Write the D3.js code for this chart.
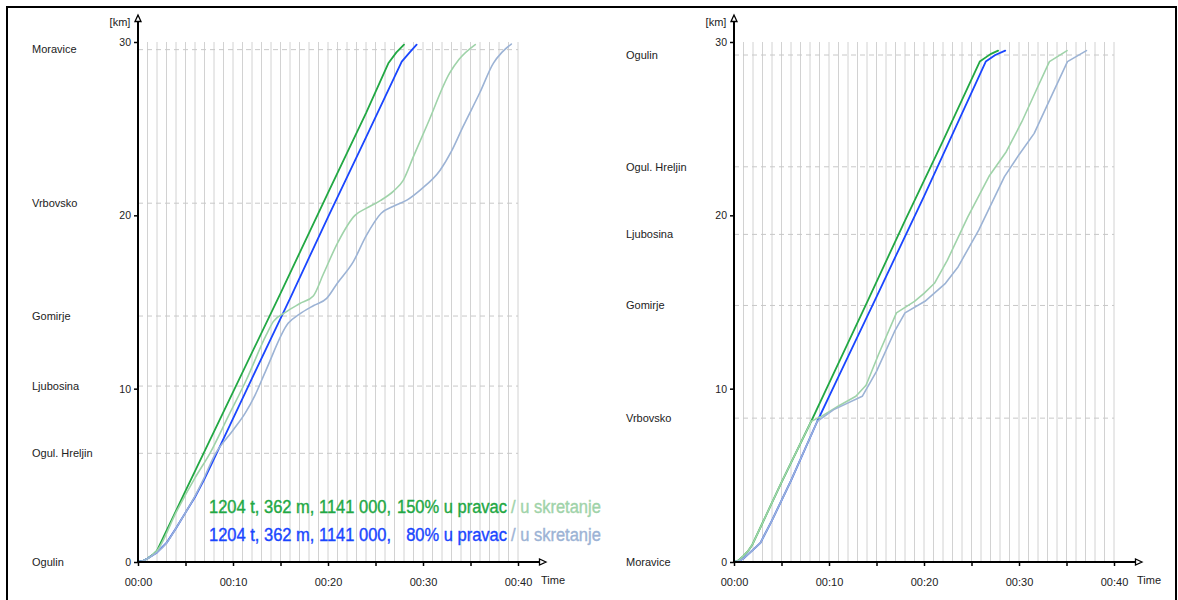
<!DOCTYPE html>
<html>
<head>
<meta charset="utf-8">
<script src="https://cdn.jsdelivr.net/npm/d3@7/dist/d3.min.js"></script>
<style>
  html, body { margin: 0; padding: 0; background: #fff; }
  svg { display: block; }
  text { font-family: "Liberation Sans", Arial, sans-serif; }
</style>
</head>
<body>
<svg id="chart" width="1178" height="600"></svg>
<script>
// ---------- DATA ----------
const timeTickValues = [0, 10, 20, 30, 40];
const timeTickLabels = ["00:00", "00:10", "00:20", "00:30", "00:40"];
const kmTickValues = [0, 10, 20, 30];

// Left chart: Ogulin -> Moravice
const leftStationNames = ["Ogulin", "Ogul. Hreljin", "Ljubosina", "Gomirje", "Vrbovsko", "Moravice"];
const leftStationKm    = [0, 6.27, 10.15, 14.19, 20.7, 29.56];

// [minutes, km]
const leftPravac150 = [[0,0],[0.5,0.06],[1,0.2],[1.5,0.4],[2,0.65],[5,4.1],[10,9.8],[15,15.5],[20,21.3],[24,25.9],[26.35,28.77],[27.2,29.4],[28,29.85]];
const leftPravac80  = [[0,0],[0.5,0.06],[1,0.2],[2,0.55],[3,1.1],[4,1.95],[5,2.85],[6,3.75],[7,4.8],[8.3,6.3],[12,10.6],[16,15.2],[20,19.9],[24,24.5],[27.76,28.87],[28.6,29.4],[29.33,29.85]];
const leftSkret150  = [[0,0],[0.5,0.06],[1,0.2],[1.5,0.4],[2,0.65],[4,2.85],[6,4.85],[7.6,6.3],[9.5,8.4],[11.4,10.5],[13.5,13.1],[14.24,13.87],[15.5,14.4],[17,14.9],[18.45,15.35],[19.5,16.6],[21,18.4],[22.84,20.0],[24,20.4],[25.5,20.85],[26.9,21.4],[27.9,22.0],[29,23.4],[30.5,25.3],[32.8,28.2],[33.8,29.0],[35.5,29.85]];
const leftSkret80   = [[0,0],[0.5,0.06],[1,0.2],[2,0.55],[3,1.1],[4,1.95],[5,2.85],[6,3.8],[7,4.9],[8,6.1],[10,7.6],[11.3,8.6],[12.3,9.6],[13.5,11.1],[15.8,13.77],[17,14.3],[18.5,14.8],[19.86,15.21],[21,16.1],[22.67,17.33],[24,18.8],[25.6,20.12],[27,20.55],[28.3,20.88],[29.7,21.46],[31.8,22.6],[33,23.7],[34.2,25.1],[36,27.1],[37.4,28.77],[38.3,29.4],[39.3,29.88]];

// Right chart: Moravice -> Ogulin
const rightStationNames = ["Moravice", "Vrbovsko", "Gomirje", "Ljubosina", "Ogul. Hreljin", "Ogulin"];
const rightStationKm    = [0, 8.3, 14.8, 18.9, 22.8, 29.25];

const rightPravac150 = [[0,0],[0.5,0.1],[1,0.35],[1.5,0.65],[1.93,1.0],[3,2.25],[5,4.6],[8.13,8.12],[10,10.3],[14.1,15.1],[18,19.7],[22,24.3],[25.87,28.87],[27,29.3],[27.8,29.5]];
const rightPravac80  = [[0,0],[0.5,0.05],[1,0.2],[1.5,0.45],[2,0.7],[2.78,1.1],[4,2.4],[6,4.7],[8.77,8.12],[11,10.7],[15,15.3],[20,21.1],[26.5,28.87],[27.5,29.25],[28.55,29.5]];
const rightSkret150  = [[0,0],[0.5,0.1],[1,0.35],[1.5,0.65],[1.93,1.0],[3,2.25],[5,4.6],[8.13,8.12],[9.2,8.4],[11,9.0],[12.83,9.56],[13.9,10.2],[15.2,11.96],[17.1,14.37],[19.0,15.04],[20,15.5],[21.1,16.08],[22.45,17.4],[24.6,19.9],[26.9,22.3],[28.66,23.67],[30.3,25.4],[31.8,27.2],[33.2,28.87],[35.06,29.5]];
const rightSkret80   = [[0,0],[0.5,0.05],[1,0.2],[1.5,0.45],[2,0.7],[2.78,1.1],[4,2.4],[6,4.7],[8.77,8.12],[10.5,8.79],[13.5,9.56],[15.0,11.0],[16.9,13.3],[18.0,14.37],[20.1,15.04],[22.26,16.08],[23.6,17.04],[25.76,19.15],[28.47,22.23],[30,23.5],[31.6,24.73],[32.9,26.27],[35.1,28.87],[37.1,29.5]];

const legendPrefix = "1204 t, 362 m, 1141 000,";
const legendMain   = ["150% u pravac", "80% u pravac"];
const legendSuffix = "/ u skretanje";

// ---------- STYLE ----------
const colDarkGreen = "#22a844";
const colDarkBlue  = "#1a46ff";
const colLightGreen = "#9fd3a9";
const colLightBlue  = "#9cb3d5";

const svg = d3.select("#chart");

// outer frame
svg.append("rect").attr("x", 7).attr("y", 7).attr("width", 1169).attr("height", 640)
  .attr("fill", "none").attr("stroke", "#000").attr("stroke-width", 2);

function drawChart(x0, labelX, names, kms, series) {
  const g = svg.append("g");
  const x = d3.scaleLinear().domain([0, 40]).range([x0, x0 + 380]);
  const y = d3.scaleLinear().domain([0, 30]).range([562, 42]);

  // vertical minute grid
  g.append("g").selectAll("line").data(d3.range(1, 41)).join("line")
    .attr("x1", d => x(d)).attr("x2", d => x(d))
    .attr("y1", y(0)).attr("y2", y(30))
    .attr("stroke", "#d2d2d2").attr("stroke-width", 1);

  // station dashed lines
  g.append("g").selectAll("line").data(kms.filter(k => k > 0)).join("line")
    .attr("x1", x(0)).attr("x2", x(40))
    .attr("y1", d => y(d)).attr("y2", d => y(d))
    .attr("stroke", "#c8c8c8").attr("stroke-width", 1).attr("stroke-dasharray", "5,4");

  // station labels
  g.append("g").selectAll("text").data(names).join("text")
    .attr("x", labelX).attr("y", (d, i) => y(kms[i]))
    .attr("dy", "0.35em").attr("font-size", 11).attr("fill", "#222")
    .text(d => d);

  // series lines
  series.forEach(s => {
    const line = d3.line().x(d => x(d[0])).y(d => y(d[1]))
      .curve(s.smooth ? d3.curveMonotoneX : d3.curveLinear);
    g.append("path").datum(s.data).attr("d", line)
      .attr("fill", "none").attr("stroke", s.color).attr("stroke-width", s.w)
      .attr("stroke-linejoin", "round").attr("stroke-linecap", "round");
  });

  // x axis
  const xAxis = d3.axisBottom(x).tickValues(d3.range(0, 41, 5)).tickSize(4).tickFormat(d => {
    const i = timeTickValues.indexOf(d);
    return i >= 0 ? timeTickLabels[i] : "";
  }).tickPadding(12);
  const gx = g.append("g").attr("transform", `translate(0,${y(0)})`).call(xAxis);
  gx.select(".domain").remove();
  gx.selectAll(".tick line").attr("stroke", "#000").attr("stroke-width", 1.5);
  gx.selectAll(".tick text").attr("font-size", 11).attr("fill", "#222")
    .attr("font-family", "Liberation Sans, Arial, sans-serif");

  // y axis
  const yAxis = d3.axisLeft(y).tickValues(kmTickValues).tickSize(4).tickPadding(3);
  const gy = g.append("g").attr("transform", `translate(${x0},0)`).call(yAxis);
  gy.select(".domain").remove();
  gy.selectAll(".tick line").attr("stroke", "#000").attr("stroke-width", 1.5);
  gy.selectAll(".tick text").attr("font-size", 10.5).attr("fill", "#222")
    .attr("font-family", "Liberation Sans, Arial, sans-serif");

  // axis lines with arrows
  g.append("line").attr("x1", x0).attr("x2", x0).attr("y1", y(0) + 1).attr("y2", 21)
    .attr("stroke", "#000").attr("stroke-width", 2);
  g.append("line").attr("x1", x0 - 1).attr("x2", x0 + 402).attr("y1", y(0)).attr("y2", y(0))
    .attr("stroke", "#000").attr("stroke-width", 2);
  g.append("path").attr("d", `M${x0},15 L${x0 - 3},21.5 L${x0 + 3},21.5 Z`)
    .attr("fill", "#fff").attr("stroke", "#000").attr("stroke-width", 1.3);
  g.append("path").attr("d", `M${x0 + 408},${y(0)} L${x0 + 401.5},${y(0) - 3} L${x0 + 401.5},${y(0) + 3} Z`)
    .attr("fill", "#fff").attr("stroke", "#000").attr("stroke-width", 1.3);

  g.append("text").attr("x", x0 - 18).attr("y", 22).attr("dy", "0.35em")
    .attr("text-anchor", "middle").attr("font-size", 11).attr("fill", "#222").text("[km]");
  g.append("text").attr("x", x0 + 403).attr("y", 580).attr("dy", "0.35em")
    .attr("font-size", 11).attr("fill", "#222").text("Time");

  return { x, y, g };
}

drawChart(138, 32, leftStationNames, leftStationKm, [
  { data: leftPravac150, color: colDarkGreen, w: 1.8, smooth: false },
  { data: leftPravac80,  color: colDarkBlue,  w: 1.8, smooth: false },
  { data: leftSkret150,  color: colLightGreen, w: 1.6, smooth: true },
  { data: leftSkret80,   color: colLightBlue,  w: 1.6, smooth: true }
]);

drawChart(734, 626, rightStationNames, rightStationKm, [
  { data: rightPravac150, color: colDarkGreen, w: 1.8, smooth: false },
  { data: rightPravac80,  color: colDarkBlue,  w: 1.8, smooth: false },
  { data: rightSkret150,  color: colLightGreen, w: 1.6, smooth: false },
  { data: rightSkret80,   color: colLightBlue,  w: 1.6, smooth: false }
]);

// legend
const lg = svg.append("g");
const legendRows = [
  { y: 507, main: legendMain[0], c: colDarkGreen, lc: colLightGreen },
  { y: 535, main: legendMain[1], c: colDarkBlue,  lc: colLightBlue }
];
function legendText(xPos, yPos, anchor, color, str) {
  lg.append("text")
    .attr("transform", `translate(${xPos},${yPos}) scale(1,1.1)`)
    .attr("dy", "0.35em").attr("text-anchor", anchor)
    .attr("font-size", 16.5).attr("fill", color)
    .attr("stroke", color).attr("stroke-width", 0.35).text(str);
}
legendRows.forEach(r => {
  legendText(209, r.y, "start", r.c, legendPrefix);
  legendText(507, r.y, "end", r.c, r.main);
  legendText(511, r.y, "start", r.lc, legendSuffix);
});
</script>
</body>
</html>
